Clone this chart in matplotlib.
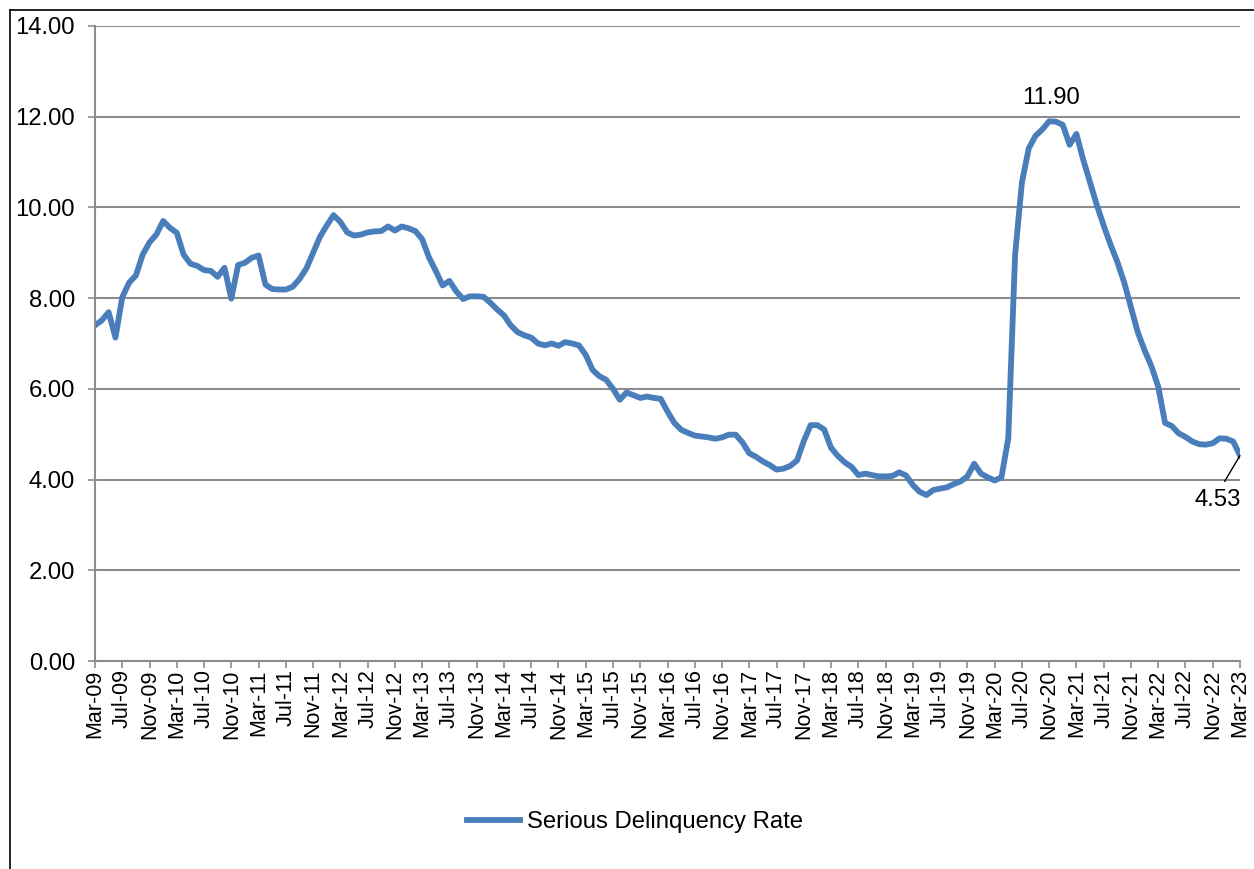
import numpy as np
import pandas as pd
import matplotlib
matplotlib.use("Agg")
import matplotlib.pyplot as plt
from matplotlib.lines import Line2D

plt.rcParams['font.family'] = ['Liberation Sans', 'DejaVu Sans']

# monthly series, Mar-09 .. Mar-23
months = pd.date_range('2009-03-01', '2023-03-01', freq='MS')
rate = [
    7.40, 7.51, 7.69, 7.13, 8.02, 8.34, 8.50, 8.96, 9.23, 9.40,
    9.70, 9.55, 9.44, 8.96, 8.76, 8.71, 8.62, 8.60, 8.47, 8.67,
    7.99, 8.73, 8.78, 8.89, 8.94, 8.30, 8.20, 8.19, 8.19, 8.25,
    8.42, 8.65, 9.00, 9.35, 9.60, 9.83, 9.68, 9.45, 9.38, 9.40,
    9.45, 9.47, 9.48, 9.58, 9.49, 9.58, 9.54, 9.48, 9.30, 8.90,
    8.60, 8.28, 8.38, 8.15, 7.98, 8.04, 8.04, 8.03, 7.90, 7.75,
    7.62, 7.40, 7.25, 7.18, 7.13, 7.00, 6.96, 7.00, 6.95, 7.03,
    7.00, 6.96, 6.75, 6.42, 6.28, 6.20, 6.00, 5.76, 5.92, 5.86,
    5.80, 5.83, 5.80, 5.78, 5.50, 5.25, 5.10, 5.03, 4.97, 4.95,
    4.93, 4.90, 4.93, 4.99, 4.99, 4.82, 4.58, 4.50, 4.40, 4.32,
    4.22, 4.24, 4.30, 4.42, 4.85, 5.20, 5.20, 5.10, 4.70, 4.52,
    4.38, 4.28, 4.10, 4.13, 4.10, 4.07, 4.07, 4.08, 4.16, 4.09,
    3.88, 3.73, 3.66, 3.77, 3.80, 3.83, 3.90, 3.96, 4.07, 4.35,
    4.13, 4.05, 3.98, 4.05, 4.91, 8.95, 10.55, 11.30, 11.58, 11.72,
    11.90, 11.89, 11.82, 11.38, 11.62, 11.05, 10.55, 10.05, 9.60, 9.18,
    8.80, 8.35, 7.80, 7.25, 6.85, 6.50, 6.05, 5.25, 5.18, 5.02,
    4.94, 4.84, 4.78, 4.77, 4.80, 4.91, 4.90, 4.84, 4.53,
]
series_name = 'Serious Delinquency Rate'
yticks = [0, 2, 4, 6, 8, 10, 12, 14]

x = np.arange(len(months))
tick_idx = x[::4]
tick_labels = [months[i].strftime('%b-%y') for i in tick_idx]

W, H = 1254, 869
fig = plt.figure(figsize=(W / 100, H / 100), dpi=100)
ax = fig.add_axes([95 / W, 1 - 661 / H, (1240 - 95) / W, (661 - 26) / H])

line_col = '#4A7EBB'
grid_col = '#8C8C8C'
fs = 17.2

ax.plot(x, rate, color=line_col, lw=4.2, solid_joinstyle='round')

ax.set_xlim(0, len(months) - 1)
ax.set_ylim(0, 14)
ax.set_yticks(yticks)
ax.set_yticklabels([f'{v:.2f}' for v in yticks], fontsize=fs)
ax.set_xticks(tick_idx)
ax.set_xticklabels(tick_labels, rotation=90, fontsize=15.5)
ax.tick_params(axis='both', direction='out', length=5, width=1.2, color=grid_col)
ax.tick_params(axis='x', pad=1)
ax.tick_params(axis='y', pad=9.4)

ax.grid(axis='y', color=grid_col, lw=1.5)
ax.set_axisbelow(True)
for s in ['top', 'right']:
    ax.spines[s].set_visible(False)
for s in ['left', 'bottom']:
    ax.spines[s].set_color(grid_col)
    ax.spines[s].set_linewidth(1.5)

# data labels on the peak and the last point
i_max = int(np.argmax(rate))
ax.annotate(f'{rate[i_max]:.2f}', xy=(x[i_max], rate[i_max]), xytext=(1, 9),
            textcoords='offset points', ha='center', va='bottom', fontsize=fs)
ax.annotate(f'{rate[-1]:.2f}', xy=(x[-1], rate[-1]), xytext=(-16, -32),
            textcoords='offset points', ha='center', va='center', fontsize=fs,
            annotation_clip=False,
            arrowprops=dict(arrowstyle='-', color='black', lw=1,
                            relpos=(0.55, 1.0), shrinkA=4, shrinkB=0))

handle = Line2D([], [], color=line_col, lw=4.2)
fig.legend([handle], [series_name], loc='center', bbox_to_anchor=(635 / W, 1 - 822 / H),
           frameon=False, fontsize=fs, handlelength=2.25, handletextpad=0.3)

# chart area border
fig.add_artist(Line2D([10 / W, 10 / W], [0, 1 - 10 / H], color='black', lw=1.2,
                      transform=fig.transFigure))
fig.add_artist(Line2D([10 / W, 1], [1 - 10 / H, 1 - 10 / H], color='black', lw=1.2,
                      transform=fig.transFigure))

fig.savefig('out.png', dpi=100, facecolor='white')
